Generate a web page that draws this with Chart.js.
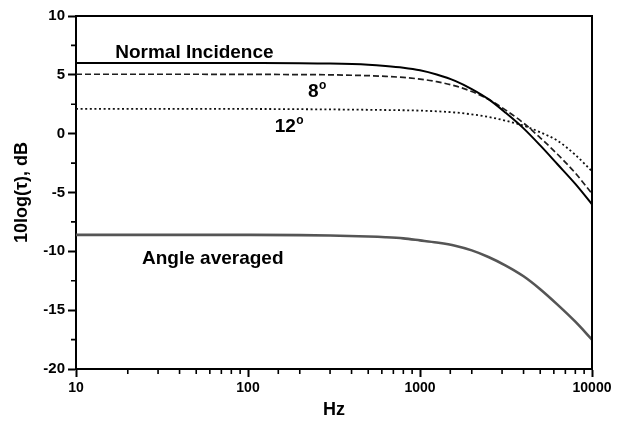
<!DOCTYPE html>
<html>
<head>
<meta charset="utf-8">
<script src="https://cdn.jsdelivr.net/npm/chart.js@4.4.1/dist/chart.umd.min.js"></script>
<style>
	html, body { margin: 0; padding: 0; background: #fff; }
	#box { position: relative; width: 624px; height: 423px; }
</style>
</head>
<body>
<div id="box"><canvas id="tauChart"></canvas></div>
<script>
// frequencies (Hz), roughly third-octave steps at the top end
var freqs = [10, 30, 100, 200, 300, 500, 630, 800, 1000, 1250, 1600, 2000, 2500, 3150, 4000, 5000, 6300, 8000, 10000];

// 10log(tau) in dB for each curve
var normalIncidence = [6.0, 6.0, 6.0, 5.99, 5.96, 5.86, 5.76, 5.61, 5.39, 5.03, 4.49, 3.79, 2.93, 1.77, 0.45, -1.0, -2.6, -4.27, -6.0];
var angle8 = [5.05, 5.05, 5.04, 5.02, 5.0, 4.93, 4.87, 4.78, 4.64, 4.42, 4.06, 3.58, 2.92, 2.0, 0.9, -0.35, -1.75, -3.35, -5.1];
var angle12 = [2.1, 2.1, 2.1, 2.08, 2.06, 2.03, 2.01, 1.99, 1.96, 1.9, 1.8, 1.64, 1.42, 1.1, 0.68, 0.12, -0.6, -1.8, -3.2];
var angleAveraged = [-8.6, -8.6, -8.6, -8.62, -8.66, -8.74, -8.8, -8.9, -9.07, -9.25, -9.52, -9.92, -10.48, -11.21, -12.12, -13.22, -14.53, -15.98, -17.5];

var yTicksMajor = [-20, -15, -10, -5, 0, 5, 10];
var xTicksMajor = [10, 100, 1000, 10000];

// curve labels, anchored in data space (Hz, dB)
var curveLabels = [
	{ text: 'Normal Incidence', sup: '', f: 16.9, v: 6.4 },
	{ text: '8', sup: 'o', f: 223, v: 3.1 },
	{ text: '12', sup: 'o', f: 143, v: 0.15 },
	{ text: 'Angle averaged', sup: '', f: 24.2, v: -11.1 }
];

var FONT = "'Liberation Sans', Arial, sans-serif";

function toPoints(values) {
	return freqs.map(function(f, i) { return { x: f, y: values[i] }; });
}

function isMajor(list, c) {
	return c.tick && list.indexOf(c.tick.value) >= 0;
}

// frame on top/right, minor tick marks, curve labels
var framePlugin = {
	id: 'frame',
	afterDraw: function(chart) {
		let ctx = chart.ctx;
		let area = chart.chartArea;
		let xs = chart.scales.x;
		let ys = chart.scales.y;

		ctx.save();
		ctx.strokeStyle = '#000';
		ctx.lineWidth = 2;
		ctx.beginPath();
		ctx.moveTo(area.left - 1, area.top);
		ctx.lineTo(area.right, area.top);
		ctx.lineTo(area.right, area.bottom + 1);
		ctx.stroke();

		ctx.lineWidth = 1.6;
		ctx.beginPath();
		xs.ticks.forEach(function(t) {
			if (xTicksMajor.indexOf(t.value) >= 0) return;
			let px = xs.getPixelForValue(t.value);
			ctx.moveTo(px, area.bottom);
			ctx.lineTo(px, area.bottom + 5);
		});
		ys.ticks.forEach(function(t) {
			if (yTicksMajor.indexOf(t.value) >= 0) return;
			let py = ys.getPixelForValue(t.value);
			ctx.moveTo(area.left, py);
			ctx.lineTo(area.left - 5, py);
		});
		ctx.stroke();

		ctx.fillStyle = '#000';
		ctx.textBaseline = 'alphabetic';
		ctx.textAlign = 'left';
		curveLabels.forEach(function(l) {
			let px = xs.getPixelForValue(l.f);
			let py = ys.getPixelForValue(l.v);
			ctx.font = 'bold 19px ' + FONT;
			ctx.fillText(l.text, px, py);
			if (l.sup) {
				let w = ctx.measureText(l.text).width;
				ctx.font = 'bold 12px ' + FONT;
				ctx.fillText(l.sup, px + w + 0.5, py - 8);
			}
		});
		ctx.restore();
	}
};

var datasets = [
	{ data: toPoints(normalIncidence), borderColor: '#000', borderWidth: 2 },
	{ data: toPoints(angle8), borderColor: '#1e1e1e', borderWidth: 1.7, borderDash: [6, 3] },
	{ data: toPoints(angle12), borderColor: '#111', borderWidth: 1.8, borderDash: [2, 2.6] },
	{ data: toPoints(angleAveraged), borderColor: '#555', borderWidth: 2.6 }
];
datasets.forEach(function(d) {
	d.pointRadius = 0;
	d.fill = false;
	d.cubicInterpolationMode = 'monotone';
});

Chart.defaults.font.family = FONT;
Chart.defaults.color = '#000';

new Chart(document.getElementById('tauChart'), {
	type: 'line',
	data: { datasets: datasets },
	options: {
		responsive: true,
		maintainAspectRatio: false,
		animation: false,
		events: [],
		layout: { padding: { top: 16, right: 32, left: 0, bottom: 0 } },
		plugins: { legend: { display: false }, tooltip: { enabled: false } },
		scales: {
			x: {
				type: 'logarithmic',
				min: 10,
				max: 10000,
				afterFit: function(scale) { scale.height = 54; },
				border: { display: true, color: '#000', width: 2 },
				grid: {
					drawOnChartArea: false,
					tickLength: 8,
					tickWidth: 2,
					tickColor: function(c) { return isMajor(xTicksMajor, c) ? '#000' : 'rgba(0,0,0,0)'; }
				},
				ticks: {
					autoSkip: false,
					maxRotation: 0,
					padding: 3,
					font: { size: 14, weight: 'bold' },
					callback: function(v) {
						return xTicksMajor.indexOf(v) >= 0 ? String(v) : '';
					}
				},
				title: {
					display: true,
					text: 'Hz',
					font: { size: 18, weight: 'bold' },
					padding: { top: 0, bottom: 2 }
				}
			},
			y: {
				min: -20,
				max: 10,
				afterFit: function(scale) { scale.width = 76; },
				border: { display: true, color: '#000', width: 2 },
				grid: {
					drawOnChartArea: false,
					tickLength: 8,
					tickWidth: 2,
					tickColor: function(c) { return isMajor(yTicksMajor, c) ? '#000' : 'rgba(0,0,0,0)'; }
				},
				ticks: {
					stepSize: 2.5,
					padding: 3,
					font: { size: 15, weight: 'bold' },
					callback: function(v) {
						return yTicksMajor.indexOf(v) >= 0 ? String(v) : '';
					}
				},
				title: {
					display: true,
					text: '10log(\u03c4), dB',
					font: { size: 18, weight: 'bold' },
					padding: { top: 11, bottom: 0 }
				}
			}
		}
	},
	plugins: [framePlugin]
});
</script>
</body>
</html>
